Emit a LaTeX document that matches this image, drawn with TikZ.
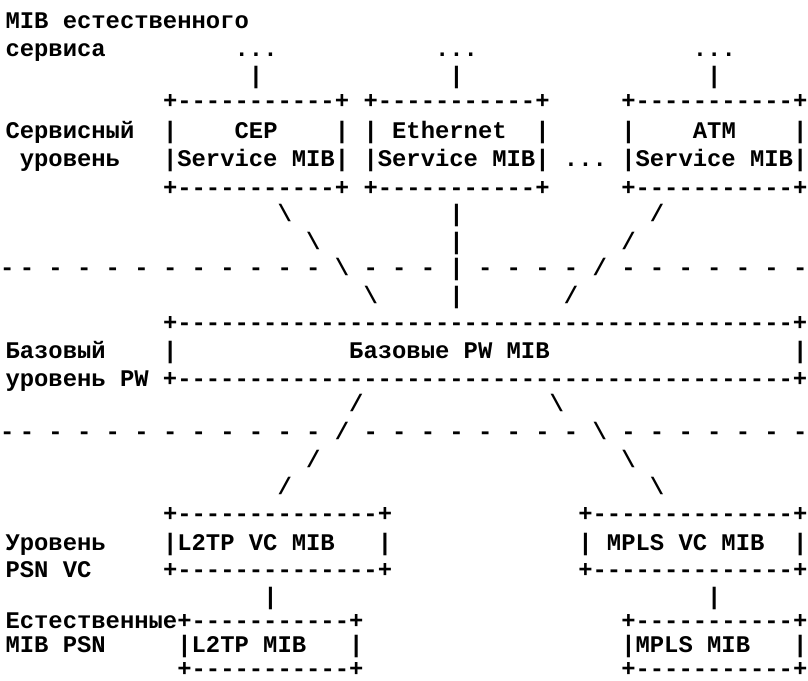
\documentclass[tikz,border=0pt]{standalone}
\usepackage{fontspec}
\setmonofont{Liberation Mono}
\tikzset{txt/.style={anchor=base west, inner sep=0pt, outer sep=0pt,
  font=\fontsize{23.86}{24}\selectfont\ttfamily\bfseries, text=black}}
\newcommand\putseg[4]{\node[txt] (#1) at ({5.5+14.32*(#2)},#3) {#4};}
\newcommand\bs{\textbackslash}
\begin{document}
\begin{tikzpicture}[x=1pt,y=-1pt]
\useasboundingbox (0,0) rectangle (808,680);
% row 1-3
\putseg{r1a}{0}{28}{MIB естественного}
\putseg{r2a}{0}{56}{сервиса}
\putseg{r2b}{16}{56}{...}
\putseg{r2c}{30}{56}{...}
\putseg{r2d}{48}{56}{...}
\putseg{r3a}{17}{83}{|}
\putseg{r3b}{31}{83}{|}
\putseg{r3c}{49}{83}{|}
% service boxes
\putseg{r4a}{11}{108}{+-----------+}
\putseg{r4b}{25}{108}{+-----------+}
\putseg{r4c}{43}{108}{+-----------+}
\putseg{r5a}{0}{138}{Сервисный}
\putseg{r5b}{11}{138}{|}
\putseg{r5c}{16}{138}{CEP}
\putseg{r5d}{23}{138}{|}
\putseg{r5e}{25}{138}{|}
\putseg{r5f}{27}{138}{Ethernet}
\putseg{r5g}{37}{138}{|}
\putseg{r5h}{43}{138}{|}
\putseg{r5i}{48}{138}{ATM}
\putseg{r5j}{55}{138}{|}
\putseg{r6a}{1}{166}{уровень}
\putseg{r6b}{11}{166}{|Service MIB|}
\putseg{r6c}{25}{166}{|Service MIB|}
\putseg{r6d}{39}{166}{...}
\putseg{r6e}{43}{166}{|Service MIB|}
\putseg{r7a}{11}{195}{+-----------+}
\putseg{r7b}{25}{195}{+-----------+}
\putseg{r7c}{43}{195}{+-----------+}
% links to base layer
\putseg{r8a}{19}{221}{\bs}
\putseg{r8b}{31}{221}{|}
\putseg{r8c}{45}{221}{/}
\putseg{r9a}{21}{249}{\bs}
\putseg{r9b}{31}{249}{|}
\putseg{r9c}{43}{249}{/}
\node[txt] (d10-0) at (0,275) {-};
\foreach \c in {1,3,5,7,9,11,13,15,17,19,21,25,27,29,33,35,37,39,43,45,47,49,51,53,55}
  {\putseg{d10-\c}{\c}{275}{-}}
\putseg{r10a}{23}{275}{\bs}
\putseg{r10b}{31}{275}{|}
\putseg{r10c}{41}{275}{/}
\putseg{r11a}{25}{303}{\bs}
\putseg{r11b}{31}{303}{|}
\putseg{r11c}{39}{303}{/}
% base PW
\putseg{r12a}{11}{330}{+-------------------------------------------+}
\putseg{r13a}{0}{358}{Базовый}
\putseg{r13b}{11}{358}{|}
\putseg{r13c}{24}{358}{Базовые PW MIB}
\putseg{r13d}{55}{358}{|}
\putseg{r14a}{0}{386}{уровень PW +-------------------------------------------+}
% links to PSN
\putseg{r15a}{24}{411}{/}
\putseg{r15b}{38}{411}{\bs}
\node[txt] (d16-0) at (0,439) {-};
\foreach \c in {1,3,5,7,9,11,13,15,17,19,21,25,27,29,31,33,35,37,39,43,45,47,49,51,53,55}
  {\putseg{d16-\c}{\c}{439}{-}}
\putseg{r16a}{23}{439}{/}
\putseg{r16b}{41}{439}{\bs}
\putseg{r17a}{21}{467}{/}
\putseg{r17b}{43}{467}{\bs}
\putseg{r18a}{19}{494}{/}
\putseg{r18b}{45}{494}{\bs}
% PSN VC
\putseg{r19a}{11}{521}{+--------------+}
\putseg{r19b}{40}{521}{+--------------+}
\putseg{r20a}{0}{550}{Уровень}
\putseg{r20b}{11}{550}{|L2TP VC MIB}
\putseg{r20c}{26}{550}{|}
\putseg{r20d}{40}{550}{|}
\putseg{r20e}{42}{550}{MPLS VC MIB}
\putseg{r20f}{55}{550}{|}
\putseg{r21a}{0}{577}{PSN VC}
\putseg{r21b}{11}{577}{+--------------+}
\putseg{r21c}{40}{577}{+--------------+}
\putseg{r22a}{18}{604}{|}
\putseg{r22b}{49}{604}{|}
% native PSN
\putseg{r23a}{0}{628}{Естественные+-----------+}
\putseg{r23b}{43}{628}{+-----------+}
\putseg{r24a}{0}{652}{MIB PSN}
\putseg{r24b}{12}{652}{|L2TP MIB}
\putseg{r24c}{24}{652}{|}
\putseg{r24d}{43}{652}{|MPLS MIB}
\putseg{r24e}{55}{652}{|}
\putseg{r25a}{12}{676}{+-----------+}
\putseg{r25b}{43}{676}{+-----------+}
\end{tikzpicture}
\end{document}
